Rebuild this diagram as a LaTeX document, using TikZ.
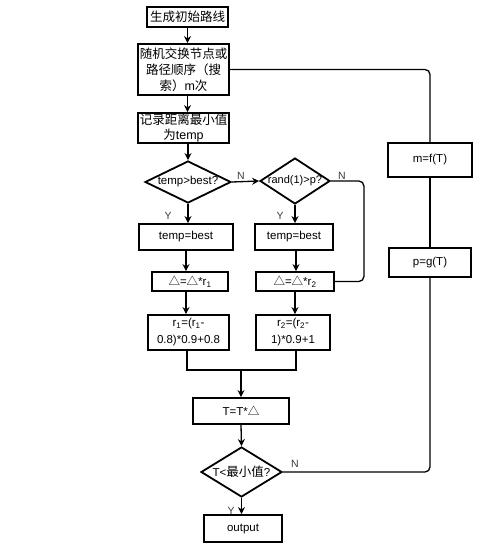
\documentclass[tikz,border=0pt]{standalone}
\usepackage{fontspec}
\setmainfont{Liberation Sans}
\newfontfamily\cjk{Noto Sans CJK SC}
\definecolor{lblgray}{RGB}{60,60,60}
\usetikzlibrary{arrows.meta,positioning,shapes.geometric}

\begin{document}
\begin{tikzpicture}[x=1pt, y=-1pt,
  box/.style={draw, line width=1.8pt, inner sep=0pt, align=center, font=\fontsize{11.5}{15}\selectfont},
  dec/.style={diamond, draw, line width=1.8pt, inner sep=0pt},
  flow/.style={-{Stealth[length=7pt,width=7pt]}, line width=1.3pt},
  link/.style={line width=1.3pt, rounded corners=5pt},
  lbl/.style={font=\fontsize{10.5}{10.5}\selectfont, text=lblgray}]
  \useasboundingbox (0,0) rectangle (497,559);
  % main column
  \node[box, minimum width=81pt, minimum height=20pt, font=\cjk\fontsize{12.5}{15}\selectfont] (start) at (187.5,17) {生成初始路线};
  \node[box, minimum width=91pt, minimum height=51pt, font=\cjk\fontsize{12.5}{16}\selectfont] (swap) at (183.5,69.5) {随机交换节点或\\路径顺序（搜\\索）{\rmfamily m}次};
  \node[box, minimum width=91pt, minimum height=30pt, font=\cjk\fontsize{12.5}{15}\selectfont] (rec) at (183.5,128) {记录距离最小值\\为{\rmfamily temp}};
  \node[dec, minimum width=86pt, minimum height=42pt, label={[font=\fontsize{11.5}{11.5}\selectfont]center:temp>best?}] (cmp) at (188,182) {};
  \node[dec, minimum width=70pt, minimum height=46pt, label={[font=\fontsize{11}{11}\selectfont]center:rand(1)>p?}] (rnd) at (295,181) {};
  \node[box, minimum width=94pt, minimum height=26pt] (setl) at (186,237) {temp=best};
  \node[box, minimum width=78pt, minimum height=26pt] (setr) at (294,237) {temp=best};
  \node[box, minimum width=76pt, minimum height=19pt] (dell) at (190,281.5) {{\cjk △}={\cjk △}*r\textsubscript{1}};
  \node[box, minimum width=78pt, minimum height=19pt] (delr) at (295,281.5) {{\cjk △}={\cjk △}*r\textsubscript{2}};
  \node[box, minimum width=81pt, minimum height=35pt, font=\fontsize{11.5}{17}\selectfont] (upl) at (188.5,332.5) {r\textsubscript{1}=(r\textsubscript{1}-\\0.8)*0.9+0.8};
  \node[box, minimum width=74pt, minimum height=35pt, font=\fontsize{11.5}{17}\selectfont] (upr) at (293,332.5) {r\textsubscript{2}=(r\textsubscript{2}-\\1)*0.9+1};
  \coordinate (jn) at (241,370);
  \node[box, minimum width=96pt, minimum height=26pt] (cool) at (241,411) {T=T*{\cjk △}};
  \node[dec, minimum width=81pt, minimum height=50pt, label={[font=\fontsize{11.5}{11.5}\selectfont]center:T<{\cjk\fontsize{12.5}{12.5}\selectfont 最小值}?}] (stop) at (241.5,472) {};
  \node[box, minimum width=78pt, minimum height=27pt] (out) at (243,528.5) {output};
  % right column
  \node[box, minimum width=84pt, minimum height=34pt] (mfun) at (430,160) {m=f(T)};
  \node[box, minimum width=82pt, minimum height=29pt] (pfun) at (430,262.5) {p=g(T)};

  \draw[flow] (start.south) -- (start.south |- swap.north);
  \draw[flow] (start.south |- swap.south) -- (start.south |- rec.north);
  \draw[flow] (cmp.north |- rec.south) -- (cmp.north);
  \draw[flow] (cmp.east) -- (rnd.west);
  \draw[flow] (cmp.south) -- (cmp.south |- setl.north);
  \draw[flow] (rnd.south) -- (rnd.south |- setr.north);
  \draw[flow] (setl.south) -- (setl.south |- dell.north);
  \draw[flow] ([xshift=2pt]setr.south) -- ([xshift=2pt]setr.south |- delr.north);
  \draw[flow] ([xshift=-4pt]dell.south) -- ([xshift=-4pt]dell.south |- upl.north);
  \draw[flow] (delr.south) -- (delr.south |- upr.north);
  \draw[link] (rnd.east) -- ++(33,0) |- (delr.east);
  \draw[line width=1.3pt] ([xshift=-1.5pt]upl.south) |- (jn) -| ([xshift=3pt]upr.south);
  \draw[flow] (jn) -- (cool.north);
  \draw[flow] (cool.south) -- (stop.north);
  \draw[flow] (stop.south) -- (stop.south |- out.north);
  \draw[link] (swap.east) -| (mfun.north);
  \draw[line width=1.3pt] (mfun.south) -- (pfun.north);
  \draw[link] (pfun.south) |- (stop.east);
  % branch labels
  \node[lbl] (n1) at (241,176) {N};
  \node[lbl] (n2) at (342,176) {N};
  \node[lbl] (y1) at (168,216) {Y};
  \node[lbl] (y2) at (280,216) {Y};
  \node[lbl] (n3) at (295,464) {N};
  \node[lbl] (y3) at (231,511) {Y};
\end{tikzpicture}
\end{document}
